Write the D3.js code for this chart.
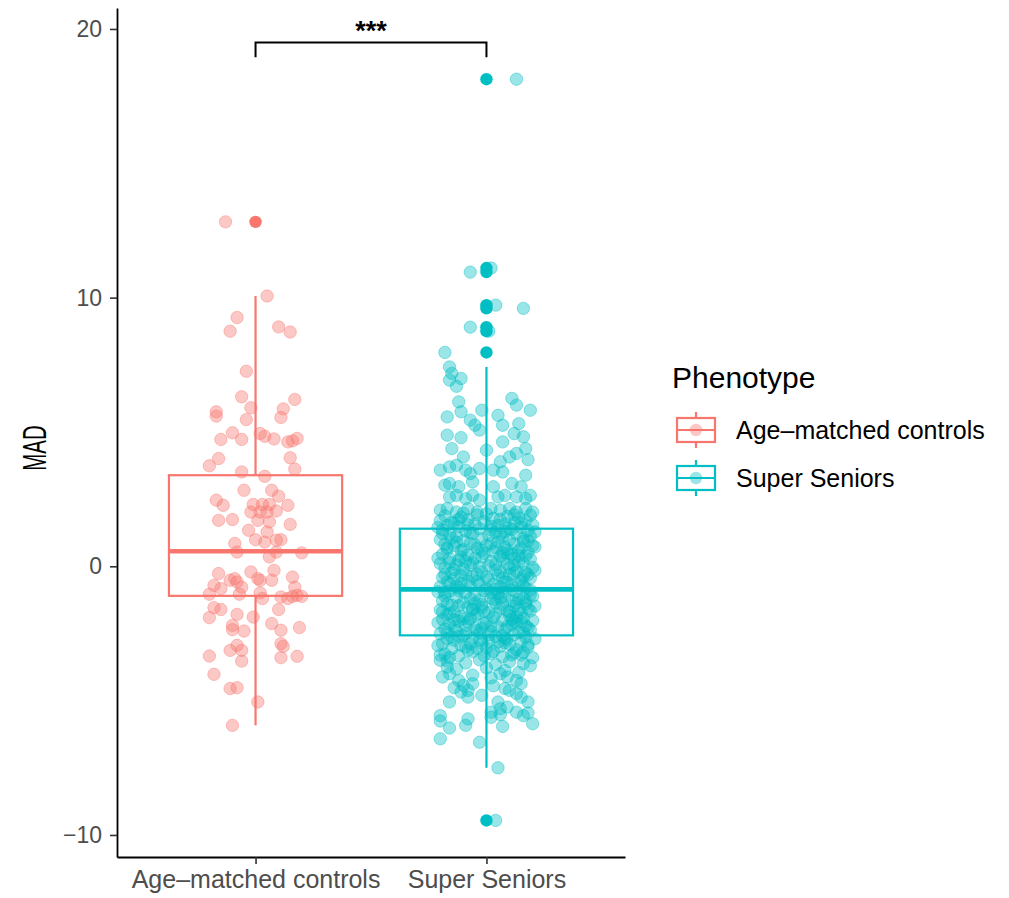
<!DOCTYPE html>
<html>
<head>
<meta charset="utf-8">
<script src="https://cdn.jsdelivr.net/npm/d3@7"></script>
<style>
  body { margin: 0; background: #fff; }
  text { font-family: "Liberation Sans", Arial, Helvetica, sans-serif; }
</style>
</head>
<body>
<svg id="chart" width="1009" height="898"></svg>
<script>
// ---- data -------------------------------------------------------------
const groups = ["Age\u2013matched controls", "Super Seniors"];
const groupColors = ["#F8766D", "#00BFC4"];
const yTicks = [-10, 0, 10, 20];
const legendTitle = "Phenotype";
const yTitle = "MAD";

// box-plot summaries per group
const boxLower  = [-1.10, -2.57];
const boxMedian = [ 0.56, -0.86];
const boxUpper  = [ 3.39,  1.40];
const whiskerLow  = [-5.92, -7.50];
const whiskerHigh = [10.06,  7.42];

// significance annotation between the two groups
const signifLabel = "***";
const signifBar = 19.5;
const signifTip = 18.95;

// individual observations: [horizontal jitter (x units), MAD]
const controlsPoints = [
  [-0.13,12.82],[0.05,10.06],[-0.08,9.26],[-0.11,8.75],[0.10,8.91],[0.15,8.72],
  [-0.04,7.26],[-0.06,6.31],[0.17,6.21],[-0.17,5.75],[-0.17,5.59],[-0.02,5.90],
  [0.12,5.86],[0.11,5.54],[-0.04,5.46],[-0.10,4.97],[-0.15,4.72],[-0.06,4.72],
  [0.02,4.94],[0.04,4.84],[0.08,4.74],[0.14,4.63],[0.16,4.67],[0.18,4.76],
  [-0.16,4.01],[-0.20,3.74],[0.15,4.04],[0.17,3.62],[-0.06,3.51],[0.04,3.35],
  [-0.05,2.83],[0.07,2.83],[0.10,2.61],[-0.17,2.46],[-0.14,2.27],[-0.01,2.30],
  [0.03,2.30],[0.06,2.30],[0.14,2.27],[-0.02,2.02],[0.02,2.02],[0.05,2.02],
  [0.09,2.06],[-0.16,1.71],[-0.10,1.74],[0.01,1.71],[0.06,1.65],[0.15,1.56],
  [-0.03,1.34],[0.05,1.28],[0.00,0.99],[0.04,0.90],[0.09,0.97],[0.11,0.99],
  [-0.09,0.85],[-0.08,0.53],[0.06,0.35],[0.09,0.53],[0.20,0.50],[-0.16,-0.27],
  [-0.02,-0.21],[0.08,-0.15],[0.16,-0.40],[-0.11,-0.52],[-0.09,-0.46],[-0.08,-0.58],
  [0.01,-0.46],[0.02,-0.52],[0.07,-0.52],[-0.18,-0.71],[-0.15,-0.83],[-0.06,-0.78],
  [0.17,-0.78],[-0.20,-1.04],[-0.07,-1.04],[0.02,-0.99],[0.03,-1.20],[0.11,-1.14],
  [0.14,-1.20],[0.16,-1.12],[0.18,-1.08],[0.20,-1.12],[-0.18,-1.54],[-0.15,-1.61],
  [-0.20,-1.91],[-0.08,-1.79],[-0.01,-1.89],[0.10,-1.61],[-0.10,-2.20],[-0.10,-2.36],
  [-0.05,-2.41],[0.07,-2.13],[0.11,-2.38],[0.19,-2.28],[0.11,-2.88],[0.12,-2.98],
  [-0.11,-3.13],[-0.08,-2.94],[-0.06,-3.13],[-0.20,-3.34],[-0.06,-3.53],[0.11,-3.40],
  [0.18,-3.35],[-0.18,-4.02],[-0.11,-4.55],[-0.08,-4.52],[0.01,-5.05],[-0.10,-5.92]
];

const seniorsPoints = [
  // upper tail
  [0.13,18.13],[0.02,11.10],[-0.07,10.95],[0.04,9.72],[0.16,9.60],[-0.07,8.90],
  [0.01,8.75],[-0.18,7.96],
  [-0.16,7.42],[-0.15,7.18],[-0.16,6.93],[-0.11,6.99],[-0.13,6.70],[-0.12,6.12],
  [-0.11,5.75],[-0.17,5.56],[-0.07,5.44],[-0.05,5.25],[-0.02,5.81],[0.05,5.62],
  [0.11,6.25],[0.13,6.00],[0.19,5.81],[0.07,5.25],[0.14,5.31],[-0.17,4.88],
  [-0.11,4.79],[-0.03,5.07],[0.12,4.94],[0.16,4.82],[0.07,4.63],[-0.15,4.38],
  [0.00,4.32],[0.10,4.07],[0.13,4.20],[0.17,4.38],[0.18,3.97],[-0.10,4.07],
  [0.06,3.89],[-0.20,3.58],[-0.16,3.70],[-0.13,3.76],[-0.09,3.58],[-0.07,3.45],
  [-0.03,3.64],[0.03,3.58],[0.07,3.51],[0.17,3.39],[-0.18,3.02],[-0.16,3.08],
  [-0.12,2.96],[-0.06,3.14],[0.03,2.96],[0.11,3.08],[0.15,2.96],[0.19,2.64],
  [-0.16,2.58],[-0.13,2.64],[-0.09,2.52],[-0.06,2.64],[-0.03,2.46],[0.05,2.58],
  [0.08,2.64],[0.13,2.58],[0.17,2.52],[-0.20,2.09],[-0.17,2.15],[-0.13,2.02],
  [-0.08,2.15],[-0.04,2.02],[0.02,2.15],[0.06,2.09],[0.10,2.15],[0.13,2.02],
  [0.17,2.15],[0.20,2.02],
  // central mass
  [-0.18,1.88],[-0.11,1.83],[-0.04,1.91],[0.03,1.79],[0.09,1.86],[0.14,1.80],[0.19,1.90],
  [-0.20,1.70],[-0.15,1.64],[-0.08,1.73],[-0.01,1.66],[0.06,1.75],[0.12,1.62],[0.17,1.69],
  [-0.17,1.52],[-0.12,1.47],[-0.05,1.56],[0.02,1.49],[0.08,1.58],[0.15,1.45],[0.20,1.54],
  [-0.19,1.36],[-0.09,1.31],[-0.03,1.40],[0.04,1.28],[0.11,1.37],[0.18,1.33],
  [-0.16,1.19],[-0.13,1.12],[-0.06,1.22],[0.01,1.15],[0.07,1.08],[0.13,1.20],[0.19,1.11],
  [-0.20,0.99],[-0.10,0.95],[-0.02,1.02],[0.05,0.91],[0.10,0.98],[0.16,0.93],
  [-0.18,0.82],[-0.14,0.76],[-0.07,0.85],[0.00,0.78],[0.08,0.72],[0.12,0.84],[0.20,0.77],
  [-0.17,0.63],[-0.11,0.58],[-0.04,0.66],[0.03,0.55],[0.09,0.61],[0.15,0.68],[0.18,0.52],
  [-0.19,0.45],[-0.08,0.41],[-0.01,0.48],[0.06,0.37],[0.11,0.44],[0.17,0.39],
  [-0.16,0.29],[-0.12,0.22],[-0.05,0.31],[0.02,0.19],[0.07,0.26],[0.14,0.16],[0.19,0.27],
  [-0.20,0.10],[-0.13,0.05],[-0.06,0.13],[0.01,0.02],[0.09,0.08],[0.16,0.11],
  [-0.18,-0.06],[-0.10,-0.11],[-0.03,-0.02],[0.04,-0.14],[0.10,-0.07],[0.13,-0.18],[0.20,-0.04],
  [-0.15,-0.24],[-0.09,-0.29],[-0.02,-0.21],[0.05,-0.33],[0.12,-0.26],[0.18,-0.31],
  [-0.19,-0.41],[-0.14,-0.46],[-0.06,-0.38],[0.01,-0.49],[0.07,-0.43],[0.15,-0.52],[0.19,-0.44],
  [-0.17,-0.58],[-0.11,-0.63],[-0.04,-0.55],[0.03,-0.67],[0.09,-0.60],[0.16,-0.71],
  [-0.20,-0.76],[-0.12,-0.81],[-0.07,-0.73],[0.00,-0.84],[0.06,-0.78],[0.11,-0.88],[0.17,-0.80],
  [-0.16,-0.93],[-0.09,-0.99],[-0.01,-0.91],[0.05,-1.02],[0.13,-0.96],[0.19,-1.05],
  [-0.18,-1.10],[-0.13,-1.16],[-0.05,-1.08],[0.02,-1.19],[0.08,-1.13],[0.14,-1.22],[0.20,-1.12],
  [-0.19,-1.29],[-0.10,-1.34],[-0.03,-1.26],[0.04,-1.37],[0.11,-1.30],[0.17,-1.40],
  [-0.15,-1.45],[-0.08,-1.51],[-0.02,-1.43],[0.06,-1.55],[0.12,-1.48],[0.18,-1.58],
  [-0.20,-1.62],[-0.14,-1.68],[-0.06,-1.60],[0.01,-1.72],[0.09,-1.65],[0.15,-1.75],[0.19,-1.66],
  [-0.17,-1.80],[-0.11,-1.86],[-0.04,-1.78],[0.03,-1.90],[0.10,-1.83],[0.16,-1.93],
  [-0.19,-1.98],[-0.12,-2.04],[-0.07,-1.96],[0.00,-2.08],[0.07,-2.01],[0.13,-2.11],[0.20,-2.02],
  [-0.16,-2.15],[-0.09,-2.21],[-0.01,-2.13],[0.05,-2.25],[0.11,-2.18],[0.18,-2.28],
  [-0.18,-2.33],[-0.13,-2.39],[-0.05,-2.31],[0.02,-2.43],[0.08,-2.36],[0.14,-2.46],[0.19,-2.37],
  [-0.20,-2.51],[-0.10,-2.57],[-0.03,-2.49],[0.04,-2.61],[0.12,-2.54],[0.17,-2.64],
  [-0.17,-2.69],[-0.14,-2.75],[-0.06,-2.67],[0.01,-2.79],[0.09,-2.72],[0.15,-2.82],
  [-0.19,-2.88],[-0.11,-2.94],[-0.02,-2.86],[0.06,-2.98],[0.10,-2.91],[0.18,-3.01],
  [-0.15,-3.07],[-0.08,-3.13],[-0.04,-3.05],[0.03,-3.17],[0.13,-3.10],[0.16,-3.20],
  [-0.18,-3.27],[-0.12,-3.33],[0.02,-3.25],[0.07,-3.37],[0.11,-3.30],[0.20,-3.40],
  [-0.14,1.60],[0.00,1.95],[0.10,1.42],[-0.07,1.25],[0.16,1.03],[-0.13,0.90],[0.04,0.70],
  [-0.02,0.35],[0.12,0.30],[-0.16,0.15],[0.06,-0.20],[-0.08,-0.55],[0.14,-0.65],[-0.12,-0.90],
  [0.03,-1.25],[-0.17,-1.40],[0.10,-1.70],[-0.05,-1.85],[0.15,-2.05],[-0.14,-2.25],[0.01,-2.55],
  [0.08,-2.85],[-0.09,-3.00],[0.12,-3.22],[-0.03,-0.68],[0.07,-0.95],[-0.10,0.62],[0.18,0.95],
  [-0.19,1.22],[0.05,1.52],[-0.06,-1.62],[0.13,-1.36],[-0.15,-2.62],[0.17,-2.22],[-0.01,-3.33],
  [0.09,0.48],[-0.12,1.75],[0.02,0.85],[-0.07,0.05],[0.16,-0.37],[-0.18,-0.98],[0.11,-1.97],
  [-0.04,-2.40],[0.06,1.18],[-0.11,-0.35],[0.19,-0.89],[-0.02,-1.52],[0.08,-2.68],[-0.16,-1.76],
  [0.14,0.40],
  [-0.21,1.45],[0.21,1.28],[-0.21,0.30],[0.21,-0.15],[-0.21,-0.95],[0.21,-1.48],[-0.21,-2.10],
  [0.21,-2.70],[-0.21,-2.95],[0.21,0.72],[-0.10,1.98],[0.12,1.92],[-0.15,1.05],[0.08,1.30],
  [-0.05,0.80],[0.14,0.58],[-0.09,0.18],[0.04,0.08],[-0.14,-0.12],[0.17,-0.23],[-0.04,-0.30],
  [0.08,-0.58],[-0.16,-0.64],[0.02,-0.98],[-0.07,-1.20],[0.16,-1.18],[-0.12,-1.47],[0.07,-1.40],
  [-0.19,-1.70],[0.04,-1.76],[0.13,-1.88],[-0.08,-2.07],[0.09,-2.24],[-0.02,-2.30],[0.16,-2.48],
  [-0.12,-2.62],[0.05,-2.82],[-0.06,-3.18],[0.15,-3.30],[-0.16,-3.40],[0.00,-0.40],[0.11,-0.72],
  [-0.13,-0.74],[0.06,-1.18],[-0.01,-1.67],[0.17,-1.30],[-0.10,-1.95],[0.02,-2.22],[-0.17,-2.45],
  [0.12,-2.05],[-0.03,-2.75],[0.18,-2.92],[-0.09,-2.50],[0.10,-0.30],[-0.02,0.60],[0.15,1.60],
  [-0.08,1.55],[0.02,1.35],[-0.17,0.70],[0.07,0.50],[-0.11,0.35],[0.12,0.05],[-0.18,-0.30],
  [0.04,-0.85],[-0.05,-1.38],[0.14,-1.62],[-0.14,-1.98],[0.07,-2.58],[-0.07,-2.88],[0.00,-3.05],
  // lower tail
  [-0.17,-3.52],[-0.09,-3.60],[-0.03,-3.48],[0.04,-3.66],[0.10,-3.55],[0.16,-3.62],
  [-0.13,-3.82],[0.00,-3.78],[0.08,-3.88],[0.14,-3.95],[0.19,-3.70],[-0.06,-4.05],
  [0.02,-4.15],[-0.20,-3.30],[0.03,-4.45],[0.08,-4.55],[-0.14,-4.52],
  [-0.20,-3.50],[-0.17,-3.75],[-0.16,-4.00],[-0.19,-4.12],[-0.12,-4.25],[-0.10,-4.43],
  [-0.06,-4.37],[-0.11,-4.68],[-0.08,-4.62],[-0.02,-4.80],[-0.08,-4.87],[0.06,-4.00],
  [0.09,-4.12],[0.13,-4.25],[0.15,-4.37],[0.10,-4.62],[0.13,-4.74],[0.15,-4.87],
  [0.18,-5.05],[-0.16,-5.05],[0.05,-5.05],[0.06,-5.30],[0.09,-5.24],[0.13,-5.43],
  [0.02,-5.43],[-0.20,-5.56],[-0.20,-5.76],[-0.08,-5.68],[0.02,-5.62],[0.06,-5.52],
  [0.16,-5.56],[0.18,-5.46],[-0.09,-5.92],[-0.16,-6.02],[0.07,-5.96],[0.20,-5.86],
  [-0.20,-6.42],[-0.03,-6.55],[0.05,-7.50],[0.04,-9.46]
];

const groupPoints = [controlsPoints, seniorsPoints];

// ---- layout -----------------------------------------------------------
const svg = d3.select("#chart");
const panel = { left: 117, right: 625, top: 8, bottom: 857 };

const x = d3.scaleLinear().domain([0.4, 2.6]).range([panel.left, panel.right]);
const y = d3.scaleLinear().domain([-10.82, 20.78]).range([panel.bottom, panel.top]);
const boxWidth = 0.75;
const pointR = 6.2;

// ---- boxes ------------------------------------------------------------
groups.forEach((g, i) => {
  const cx = i + 1;
  const col = groupColors[i];
  const gb = svg.append("g").attr("class", "box");
  // whiskers
  gb.append("line")
    .attr("x1", x(cx)).attr("x2", x(cx))
    .attr("y1", y(boxUpper[i])).attr("y2", y(whiskerHigh[i]))
    .attr("stroke", col).attr("stroke-width", 2.2);
  gb.append("line")
    .attr("x1", x(cx)).attr("x2", x(cx))
    .attr("y1", y(boxLower[i])).attr("y2", y(whiskerLow[i]))
    .attr("stroke", col).attr("stroke-width", 2.2);
  // box
  gb.append("rect")
    .attr("x", x(cx - boxWidth / 2))
    .attr("width", x(cx + boxWidth / 2) - x(cx - boxWidth / 2))
    .attr("y", y(boxUpper[i]))
    .attr("height", y(boxLower[i]) - y(boxUpper[i]))
    .attr("fill", "white").attr("stroke", col).attr("stroke-width", 2.2);
  // median
  gb.append("line")
    .attr("x1", x(cx - boxWidth / 2)).attr("x2", x(cx + boxWidth / 2))
    .attr("y1", y(boxMedian[i])).attr("y2", y(boxMedian[i]))
    .attr("stroke", col).attr("stroke-width", 4.6);
  // outliers beyond the whiskers, drawn at the group centre
  const outliers = groupPoints[i].filter(p => p[1] > whiskerHigh[i] || p[1] < whiskerLow[i]);
  gb.selectAll("circle.outlier").data(outliers).join("circle")
    .attr("class", "outlier")
    .attr("cx", x(cx)).attr("cy", d => y(d[1]))
    .attr("r", pointR).attr("fill", col);
});

// ---- jittered points ---------------------------------------------------
groups.forEach((g, i) => {
  const col = groupColors[i];
  svg.append("g").selectAll("circle").data(groupPoints[i]).join("circle")
    .attr("cx", d => x(i + 1 + d[0]))
    .attr("cy", d => y(d[1]))
    .attr("r", pointR)
    .attr("fill", col).attr("fill-opacity", 0.4)
    .attr("stroke", col).attr("stroke-opacity", 0.4).attr("stroke-width", 1);
});

// ---- axes --------------------------------------------------------------
const yAxis = svg.append("g")
  .attr("transform", `translate(${panel.left},0)`)
  .call(d3.axisLeft(y).tickValues(yTicks).tickSize(7).tickSizeOuter(0).tickPadding(8));
yAxis.select(".domain").attr("stroke", "black").attr("stroke-width", 1.8);
yAxis.selectAll(".tick line").attr("stroke", "#333").attr("stroke-width", 1.6);
yAxis.selectAll(".tick text")
  .attr("fill", "#4d4d4d").style("font-size", "23px")
  .style("font-family", "'Liberation Sans', Arial, sans-serif");

const xAxis = svg.append("g")
  .attr("transform", `translate(0,${panel.bottom})`)
  .call(d3.axisBottom(x).tickValues([1, 2]).tickFormat(d => groups[d - 1])
    .tickSize(7).tickSizeOuter(0).tickPadding(6));
xAxis.select(".domain").attr("stroke", "black").attr("stroke-width", 1.8);
xAxis.selectAll(".tick line").attr("stroke", "#333").attr("stroke-width", 1.6);
xAxis.selectAll(".tick text")
  .attr("fill", "#4d4d4d").style("font-size", "25px")
  .style("font-family", "'Liberation Sans', Arial, sans-serif");

// y title, set in a condensed face
svg.append("text")
  .attr("transform", `translate(46,${(y(20) + y(-10)) / 2 + 16}) rotate(-90) scale(0.62,1)`)
  .attr("text-anchor", "middle")
  .style("font-size", "33px").attr("fill", "black")
  .text(yTitle);

// ---- significance bracket ---------------------------------------------
svg.append("path")
  .attr("d", `M${x(1)},${y(signifTip)}V${y(signifBar)}H${x(2)}V${y(signifTip)}`)
  .attr("fill", "none").attr("stroke", "black").attr("stroke-width", 2);
svg.append("text")
  .attr("x", (x(1) + x(2)) / 2).attr("y", 40)
  .attr("text-anchor", "middle")
  .style("font-size", "27px").style("font-weight", "bold").attr("fill", "black")
  .text(signifLabel);

// ---- legend ------------------------------------------------------------
const legend = svg.append("g").attr("transform", "translate(672,0)");
legend.append("text").attr("x", 0).attr("y", 388)
  .style("font-size", "30px").attr("fill", "black").text(legendTitle);

groups.forEach((g, i) => {
  const cy = 430 + i * 48;
  const col = groupColors[i];
  const k = legend.append("g");
  k.append("line").attr("x1", 24).attr("x2", 24).attr("y1", cy - 18).attr("y2", cy + 18)
    .attr("stroke", col).attr("stroke-width", 2.2);
  k.append("rect").attr("x", 5).attr("y", cy - 12).attr("width", 38).attr("height", 24)
    .attr("fill", "white").attr("stroke", col).attr("stroke-width", 2.2);
  k.append("line").attr("x1", 5).attr("x2", 43).attr("y1", cy).attr("y2", cy)
    .attr("stroke", col).attr("stroke-width", 2.2);
  k.append("circle").attr("cx", 24).attr("cy", cy).attr("r", pointR)
    .attr("fill", col).attr("fill-opacity", 0.4);
  legend.append("text").attr("x", 64).attr("y", cy)
    .attr("dominant-baseline", "central")
    .style("font-size", "25px").attr("fill", "black").text(g);
});
</script>
</body>
</html>
